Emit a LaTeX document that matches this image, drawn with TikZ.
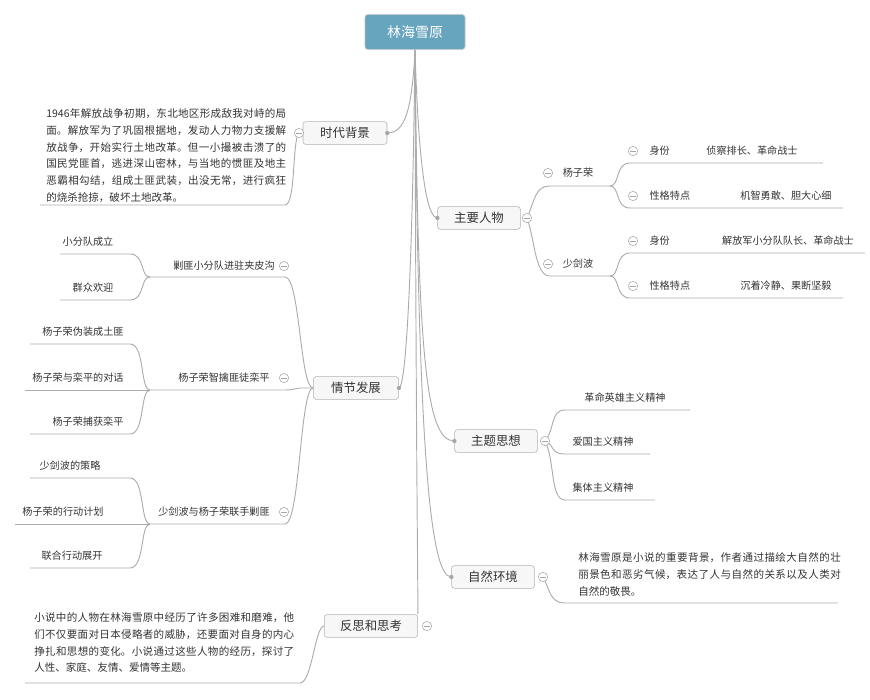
\documentclass[tikz,border=0pt]{standalone}
\usepackage{fontspec}
\setmainfont{Noto Sans CJK SC}
\XeTeXlinebreaklocale "zh"
\XeTeXlinebreakskip=0pt plus 1pt
\begin{document}
\begin{tikzpicture}[x=0.75pt,y=-0.75pt,
 ln/.style={draw=gray!65,line width=0.7pt},
 topic/.style={draw=gray!60,fill=blue!4!gray!6,rounded corners=2pt,minimum height=17pt,inner xsep=8pt,font=\fontsize{9.3}{11}\selectfont,text=black!80},
 lf/.style={font=\fontsize{7.6}{9}\selectfont,text=black!80,inner sep=1pt},
 para/.style={font=\fontsize{7.9}{12.7}\selectfont,text=black!80,align=justify,text width=#1,inner sep=0pt},
 cc/.style={circle,draw=gray!70,fill=white,minimum size=7pt,inner sep=0pt,path picture={\draw[gray!70,line width=0.6pt](path picture bounding box.west)++(1.6pt,0)--++(3.8pt,0);}}]
\useasboundingbox (0,0) rectangle (870,699);
% root
\node[draw=gray!50,fill=blue!30!cyan!40!gray!85,rounded corners=2pt,minimum width=75pt,minimum height=26pt,text=white,font=\fontsize{10.5}{12}\selectfont] (root) at (415,32) {林海雪原};
\coordinate (rb) at (415,50);
% topics
\node[topic,minimum width=63pt] (t1) at (345,133) {时代背景};
\node[topic,minimum width=62pt] (t2) at (479,218) {主要人物};
\node[topic,minimum width=64pt] (t3) at (356,388) {情节发展};
\node[topic,minimum width=62pt] (t4) at (496,441) {主题思想};
\node[topic,minimum width=62pt] (t5) at (493,577) {自然环境};
\node[topic,minimum width=70pt] (t6) at (371,626) {反思和思考};
% main connectors
\draw[ln] (rb) .. controls (412,110) and (405,133) .. (t1.east);
\draw[ln] (rb) .. controls (418,150) and (425,218) .. (t2.west);
\draw[ln] (rb) .. controls (412,300) and (405,388) .. (t3.east);
\draw[ln] (rb) .. controls (418,350) and (425,441) .. (t4.west);
\draw[ln] (rb) .. controls (418,450) and (430,577) .. (t5.west);
\draw[ln] (rb) .. controls (416,450) and (418,590) .. (t6.north east);
\foreach \t in {t1,t3} \fill[gray!70] (\t.east) circle (1.6pt);
\foreach \t in {t2,t4,t5} \fill[gray!70] (\t.west) circle (1.6pt);
% t1 paragraph
\coordinate (c1) at (299,133);
\draw[ln] (c1) .. controls (292,140) and (296,205) .. (285,205) -- (40,205);
\node[para=180pt,anchor=north west] (p1) at (46,108) {1946年解放战争初期，东北地区形成敌我对峙的局面。解放军为了巩固根据地，发动人力物力支援解放战争，开始实行土地改革。但一小撮被击溃了的国民党匪首，逃进深山密林，与当地的惯匪及地主恶霸相勾结，组成土匪武装，出没无常，进行疯狂的烧杀抢掠，破坏土地改革。};
\node[cc] at (c1) {};
% t2
\coordinate (c2) at (527,218);
\draw[ln] (c2) .. controls (535,200) and (535,186) .. (550,186) -- (610,186);
\draw[ln] (c2) .. controls (535,240) and (535,276) .. (550,276) -- (610,276);
\node[cc] at (c2) {};
\node[lf] (yz) at (578,173) {杨子荣}; \node[cc] at (548,173) {};
\node[lf] (sj) at (578,264) {少剑波}; \node[cc] at (548,264) {};
\foreach \y/\a/\b/\vx/\v/\e in {151/身份/163/752/侦察排长、革命战士/823, 196/性格特点/208/786/机智勇敢、胆大心细/843, 241/身份/253/788/解放军小分队队长、革命战士/865, 286/性格特点/298/786/沉着冷静、果断坚毅/843}{
 \node[lf,anchor=west] at (648,\y) {\a};
 \node[lf] at (\vx,\y) {\v};
 \node[cc] at (633,\y) {};
}
\draw[ln] (610,186) .. controls (620,186) and (615,163) .. (630,163) -- (823,163);
\draw[ln] (610,186) .. controls (620,186) and (615,208) .. (630,208) -- (843,208);
\draw[ln] (610,276) .. controls (620,276) and (615,253) .. (630,253) -- (865,253);
\draw[ln] (610,276) .. controls (620,276) and (615,298) .. (630,298) -- (843,298);
% t3
\draw[ln] (t3.west) .. controls (300,388) and (300,277) .. (285,277) -- (150,277);
\draw[ln] (t3.west) -- (300,388) .. controls (295,388) and (295,390) .. (285,390) -- (150,390);
\draw[ln] (t3.west) .. controls (300,388) and (300,524) .. (285,524) -- (150,524);
\node[lf] at (224,266) {剿匪小分队进驻夹皮沟}; \node[cc] at (284,266) {};
\node[lf] at (224,378) {杨子荣智擒匪徒栾平}; \node[cc] at (284,378) {};
\node[lf] at (214,512) {少剑波与杨子荣联手剿匪}; \node[cc] at (284,512) {};
\foreach \m/\ya/\yb/\x in {277/254/300/60, 390/344/434/30, 524/478/568/30}{
 \draw[ln] (150,\m) .. controls (140,\m) and (145,\ya) .. (130,\ya) -- (\x,\ya);
 \draw[ln] (150,\m) .. controls (140,\m) and (145,\yb) .. (130,\yb) -- (\x,\yb);
}
\draw[ln] (150,390) -- (25,390);
\draw[ln] (150,524) -- (15,524);
\node[lf] at (88,242) {小分队成立};
\node[lf] at (93,288) {群众欢迎};
\node[lf] at (83,332) {杨子荣伪装成土匪};
\node[lf] at (78,378) {杨子荣与栾平的对话};
\node[lf] at (88,422) {杨子荣捕获栾平};
\node[lf] at (70,466) {少剑波的策略};
\node[lf] at (63,512) {杨子荣的行动计划};
\node[lf] at (72,556) {联合行动展开};
% t4
\coordinate (c4) at (545,441);
\draw[ln] (c4) .. controls (555,430) and (550,410) .. (565,410) -- (690,410);
\draw[ln] (c4) .. controls (555,445) and (550,454) .. (565,454) -- (650,454);
\draw[ln] (c4) .. controls (555,460) and (550,500) .. (565,500) -- (655,500);
\node[cc] at (c4) {};
\node[lf] at (625,398) {革命英雄主义精神};
\node[lf] at (603,442) {爱国主义精神};
\node[lf] at (603,488) {集体主义精神};
% t5
\coordinate (c5) at (543,577);
\draw[ln] (c5) .. controls (550,590) and (550,603) .. (565,603) -- (838,603);
\node[cc] at (c5) {};
\node[para=197pt,anchor=north west] at (578,552) {林海雪原是小说的重要背景，作者通过描绘大自然的壮丽景色和恶劣气候，表达了人与自然的关系以及人类对自然的敬畏。};
% t6
\draw[ln] (t6.west) .. controls (315,626) and (312,683) .. (300,683) -- (25,683);
\node[cc] at (427,626) {};
\node[para=195pt,anchor=north west] at (34,612) {小说中的人物在林海雪原中经历了许多困难和磨难，他们不仅要面对日本侵略者的威胁，还要面对自身的内心挣扎和思想的变化。小说通过这些人物的经历，探讨了人性、家庭、友情、爱情等主题。};
\end{tikzpicture}
\end{document}
